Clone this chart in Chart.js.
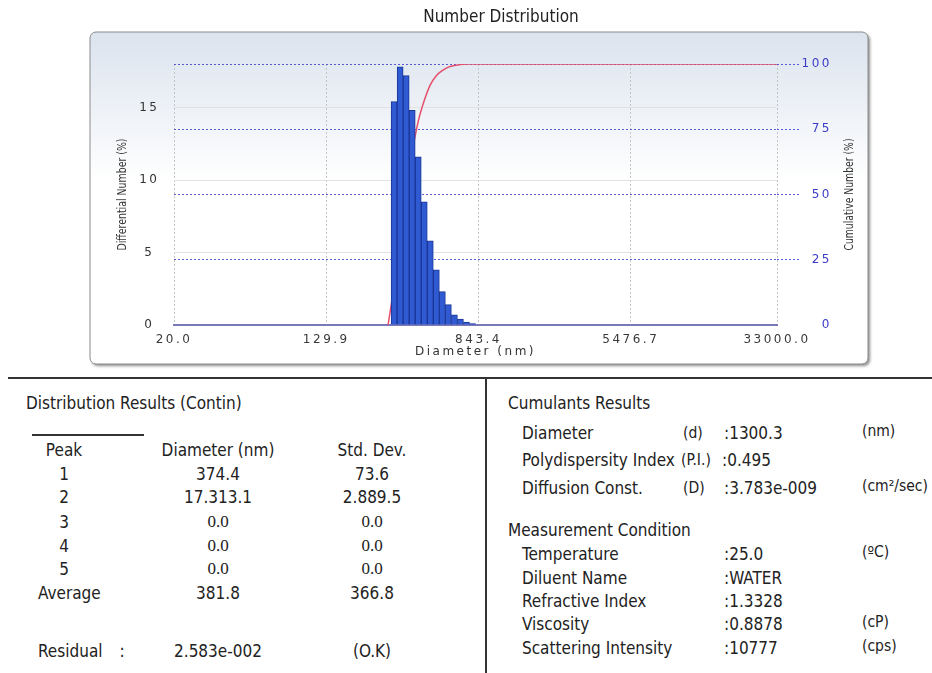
<!DOCTYPE html>
<html><head><meta charset="utf-8">
<script src="https://cdn.jsdelivr.net/npm/chart.js@4.4.1/dist/chart.umd.min.js"></script>
<style>
html,body{margin:0;padding:0;background:#fff;}
body{width:932px;height:673px;position:relative;overflow:hidden;font-family:"DejaVu Sans Condensed","DejaVu Sans",sans-serif;color:#222;}
#chartBox{position:absolute;left:0;top:0;width:932px;height:372px;}
.t{position:absolute;font-size:17px;line-height:20px;white-space:nowrap;}
.c{transform:translateX(-50%);}
.u{font-size:15.5px;}
.serif{font-family:"Liberation Serif","DejaVu Serif",serif;}
.rule{position:absolute;background:#333;}
</style></head><body>
<div id="chartBox"><canvas id="c" width="932" height="372"></canvas></div>
<div class="rule" style="left:8px;top:377px;width:924px;height:2px"></div>
<div class="rule" style="left:485px;top:378px;width:2px;height:295px"></div>
<div class="rule" style="left:32px;top:434px;width:112px;height:1.5px"></div>
<div id="tables"></div>
<script>
// ---- chart data ----
const xTickValues = [20, 129.9, 843.4, 5476.7, 33000];
const xTickLabels = ['20.0', '129.9', '843.4', '5476.7', '33000.0'];
const leftTicks = [0, 5, 10, 15];
const rightTicks = [0, 25, 50, 75, 100];
const binDiameters = [298.8, 321.8, 346.6, 373.3, 402.0, 432.9, 466.2, 502.1, 540.7, 582.1, 627.0, 675.1, 727.2, 783.1];
const differentialNumber = [15.4, 17.8, 17.2, 14.8, 11.6, 8.5, 5.8, 3.8, 2.3, 1.4, 0.7, 0.4, 0.2, 0.1];
const cumulativeDiameters = [277.5, 298.8, 321.8, 346.6, 373.3, 402.0, 432.9, 466.2, 502.1, 540.7, 582.1, 627.0, 675.1, 727.2, 783.1, 33000];
const cumulativeNumber = [0, 15, 33, 50, 66, 78, 86, 92, 95.5, 97.5, 98.8, 99.4, 99.8, 100, 100, 100];

// ---- table text ----
const peakHeader = ['Peak', 'Diameter (nm)', 'Std. Dev.'];
const peakRows = [['1', '374.4', '73.6'], ['2', '17.313.1', '2.889.5'], ['3', '0.0', '0.0'], ['4', '0.0', '0.0'], ['5', '0.0', '0.0'], ['Average', '381.8', '366.8']];
const residualRow = ['Residual', ':', '2.583e-002', '(O.K)'];
const cumulantRows = [['Diameter', '(d)', ':1300.3', '(nm)'], ['Polydispersity Index', '(P.I.)', ':0.495', ''], ['Diffusion Const.', '(D)', ':3.783e-009', '(cm\u00b2/sec)']];
const conditionRows = [['Temperature', ':25.0', '(\u00baC)'], ['Diluent Name', ':WATER', ''], ['Refractive Index', ':1.3328', ''], ['Viscosity', ':0.8878', '(cP)'], ['Scattering Intensity', ':10777', '(cps)']];

const host = document.getElementById('tables');
function put(text, x, y, center, extra) {
  if (!text) return;
  const d = document.createElement('div');
  d.className = 't' + (center ? ' c' : '') + (extra ? ' ' + extra : '');
  d.style.left = x + 'px'; d.style.top = (y - 10) + 'px';
  d.textContent = text; host.appendChild(d);
}
put('Distribution Results (Contin)', 26, 403, false);
const colX = [64, 218, 372];
peakHeader.forEach((h, i) => put(h, colX[i], 450, true));
const rowY = [474, 497, 522, 546, 569, 593];
peakRows.forEach((r, k) => {
  if (r[0] === 'Average') put(r[0], 38, rowY[k], false); else put(r[0], colX[0], rowY[k], true);
  const serif = r[1] === '0.0' ? 'serif' : '';
  put(r[1], colX[1], rowY[k], true, serif);
  put(r[2], colX[2], rowY[k], true, serif);
});
put(residualRow[0], 38, 651, false);
put(residualRow[1], 122, 651, true);
put(residualRow[2], colX[1], 651, true);
put(residualRow[3], colX[2], 651, true);

put('Cumulants Results', 508, 403, false);
const cumY = [433, 460, 488];
cumulantRows.forEach((r, k) => {
  put(r[0], 522, cumY[k], false);
  put(r[1], k === 1 ? 681 : 683, cumY[k], false, 'u');
  put(r[2], k === 1 ? 722 : 724, cumY[k], false);
  put(r[3], 862, cumY[k] - 2, false, 'u');
});
put('Measurement Condition', 508, 530, false);
const condY = [554, 578, 601, 624, 648];
conditionRows.forEach((r, k) => {
  put(r[0], 522, condY[k], false);
  put(r[1], 724, condY[k], false);
  put(r[2], 862, condY[k] - 2, false, 'u');
});

// ---- chart ----
const SANS = '"DejaVu Sans", sans-serif';
const COND = '"DejaVu Sans Condensed", "DejaVu Sans", sans-serif';
const SPACING = '2.5px';

const panelPlugin = {
  id: 'panel',
  beforeDraw(chart) {
    const c = chart.ctx; const x = 90, y = 32, w = 778, h = 332, r = 6;
    c.save();
    c.beginPath(); c.roundRect(x, y, w, h, r);
    c.shadowColor = 'rgba(0,0,0,0.45)'; c.shadowOffsetX = 2; c.shadowOffsetY = 2; c.shadowBlur = 3;
    const g = c.createLinearGradient(0, y, 0, y + h);
    g.addColorStop(0, '#dbe3ee'); g.addColorStop(0.45, '#ffffff'); g.addColorStop(1, '#ffffff');
    c.fillStyle = g; c.fill();
    c.shadowColor = 'transparent';
    c.lineWidth = 1; c.strokeStyle = '#8c8c8c'; c.stroke();
    c.restore();
  }
};

const textPlugin = {
  id: 'axisText',
  beforeDraw(chart) {
    Object.values(chart.scales).forEach(s => {
      if (s._wrapped) return; s._wrapped = true;
      const dl = s.drawLabels;
      s.drawLabels = function (a) {
        const c = this.ctx; c.save(); c.letterSpacing = SPACING;
        if (this.id === 'y1') c.translate(-80, 0);
        dl.call(this, a); c.restore();
      };
      if (s.id === 'x') {
        const dt = s.drawTitle;
        s.drawTitle = function () { const c = this.ctx; c.save(); c.letterSpacing = SPACING; dt.call(this); c.restore(); };
      } else {
        s.drawTitle = function () {
          const t = this.options.title; if (!t.display) return;
          const c = this.ctx;
          const cx = this.id === 'y' ? 123 : 850;
          const cy = (this.top + this.bottom) / 2;
          c.save(); c.font = '13px ' + COND; c.fillStyle = t.color;
          c.textAlign = 'center'; c.textBaseline = 'middle';
          c.translate(cx, cy); c.rotate(-Math.PI / 2);
          c.fillText(t.text, 0, 0, 112); c.restore();
        };
      }
    });
  }
};

const blue = '#5a5ad2';
new Chart(document.getElementById('c'), {
  type: 'bar',
  data: {
    datasets: [
      {
        type: 'bar', label: 'Differential Number (%)', xAxisID: 'x', yAxisID: 'y', order: 1,
        data: binDiameters.map((d, i) => ({ x: d, y: differentialNumber[i] })),
        backgroundColor: '#2f5ad2', borderColor: '#1b3596', borderWidth: 1,
        barPercentage: 1, categoryPercentage: 1
      },
      {
        type: 'line', label: 'Cumulative Number (%)', xAxisID: 'x', yAxisID: 'y1', order: 2,
        data: cumulativeDiameters.map((d, i) => ({ x: d, y: cumulativeNumber[i] })),
        borderColor: '#e4506c', borderWidth: 1.5, pointRadius: 0, cubicInterpolationMode: 'monotone', fill: false
      }
    ]
  },
  options: {
    responsive: false, animation: false, devicePixelRatio: 1,
    layout: { padding: { left: 90, right: 20, top: 0, bottom: 6 } },
    plugins: {
      legend: { display: false }, tooltip: { enabled: false },
      title: { display: true, text: 'Number Distribution', color: '#222', font: { family: COND, size: 17, weight: 'normal' }, padding: { top: 7, bottom: 36.6 } }
    },
    scales: {
      x: {
        type: 'logarithmic', position: 'bottom', min: 20, max: 33000, offset: false,
        afterBuildTicks: s => { s.ticks = xTickValues.map(v => ({ value: v })); },
        afterFit: s => { s.height = 41; },
        ticks: { callback: (v, i) => xTickLabels[i], color: '#3a3a3a', font: { family: SANS, size: 12 }, padding: 8, maxRotation: 0, autoSkip: false },
        grid: { color: '#c4c4c4', lineWidth: 1, drawTicks: false, offset: false, borderDash: [2, 2] },
        border: { display: true, color: '#7878bb', width: 2, dash: [2, 2] },
        title: { display: true, text: 'Diameter (nm)', color: '#333', font: { family: SANS, size: 12 }, padding: { top: 0, bottom: 7 } }
      },
      y: {
        type: 'linear', position: 'left', min: 0, max: 18,
        afterBuildTicks: s => { s.ticks = leftTicks.map(v => ({ value: v })); },
        afterFit: s => { s.width = 84; },
        ticks: { color: '#333', font: { family: SANS, size: 12 }, padding: 17, crossAlign: 'center' },
        grid: { color: ctx => ctx.tick && ctx.tick.value === 0 ? 'rgba(0,0,0,0)' : '#e2e2e2', lineWidth: 1, drawTicks: false },
        border: { display: false },
        title: { display: true, text: 'Differential Number (%)', color: '#333' }
      },
      y1: {
        type: 'linear', position: 'right', min: 0, max: 100,
        afterBuildTicks: s => { s.ticks = rightTicks.map(v => ({ value: v })); },
        afterFit: s => { s.width = 135; },
        ticks: { color: '#3b3bc8', font: { family: SANS, size: 12 }, padding: 7, crossAlign: 'far' },
        grid: {
          color: ctx => ctx.tick && ctx.tick.value === 0 ? 'rgba(0,0,0,0)' : blue,
          tickColor: ctx => ctx.tick && ctx.tick.value === 0 ? 'rgba(0,0,0,0)' : blue,
          lineWidth: 1, drawTicks: true, tickLength: 23, tickBorderDash: [2, 2], borderDash: [2, 2]
        },
        border: { display: false, dash: [2, 2] },
        title: { display: true, text: 'Cumulative Number (%)', color: '#333' }
      }
    }
  },
  plugins: [panelPlugin, textPlugin]
});
</script>
</body></html>
